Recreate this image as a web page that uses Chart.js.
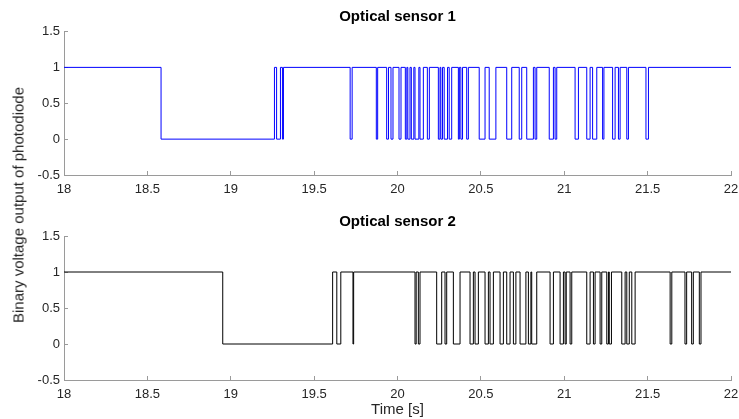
<!DOCTYPE html>
<html>
<head>
<meta charset="utf-8">
<script src="https://cdn.jsdelivr.net/npm/chart.js@4"></script>
<style>
  html, body { margin: 0; padding: 0; background: #fff; }
  #wrap { position: relative; width: 739px; height: 419px; overflow: hidden; }
  #c1 { position: absolute; left: 0; top: 0; }
  #c2 { position: absolute; left: 0; top: 200px; }
  #ylab {
    position: absolute; left: 18px; top: 205px;
    transform: translate(-50%, -50%) rotate(-90deg);
    white-space: nowrap;
    font: 15px "Liberation Sans", Arial, sans-serif;
    color: #262626;
  }
</style>
</head>
<body>
<div id="wrap">
  <canvas id="c1" width="739" height="200"></canvas>
  <canvas id="c2" width="739" height="219"></canvas>
  <div id="ylab">Binary voltage output of photodiode</div>
</div>
<script>
// tick values
const xTicks = [18, 18.5, 19, 19.5, 20, 20.5, 21, 21.5, 22];
const yTicks = [-0.5, 0, 0.5, 1, 1.5];

// intervals where the photodiode output is 0 (otherwise 1), in seconds
const sensor1Lows = [
  [18.582, 19.262], [19.275, 19.298], [19.31, 19.316], [19.716, 19.728],
  [19.873, 19.881], [19.935, 19.946], [19.961, 19.973], [20.009, 20.021],
  [20.047, 20.056], [20.062, 20.075], [20.083, 20.098], [20.105, 20.128],
  [20.135, 20.155], [20.179, 20.191], [20.245, 20.255], [20.26, 20.27],
  [20.28, 20.30], [20.31, 20.325], [20.365, 20.371], [20.38, 20.39],
  [20.415, 20.425], [20.49, 20.525], [20.55, 20.59], [20.655, 20.685],
  [20.73, 20.745], [20.775, 20.815], [20.825, 20.835], [20.91, 20.935],
  [20.945, 20.955], [21.065, 21.085], [21.135, 21.155], [21.17, 21.195],
  [21.23, 21.238], [21.29, 21.305], [21.325, 21.335], [21.375, 21.385],
  [21.49, 21.505]
];
const sensor2Lows = [
  [18.952, 19.611], [19.636, 19.66], [19.733, 19.737], [20.105, 20.112],
  [20.125, 20.135], [20.235, 20.265], [20.285, 20.295], [20.335, 20.375],
  [20.435, 20.455], [20.465, 20.485], [20.525, 20.545], [20.555, 20.575],
  [20.615, 20.635], [20.655, 20.675], [20.695, 20.71], [20.735, 20.77],
  [20.785, 20.80], [20.805, 20.835], [20.915, 20.935], [20.975, 20.995],
  [21.005, 21.012], [21.035, 21.045], [21.135, 21.155], [21.175, 21.185],
  [21.215, 21.225], [21.255, 21.265], [21.27, 21.283], [21.345, 21.365],
  [21.375, 21.39], [21.405, 21.425], [21.635, 21.645], [21.724, 21.734],
  [21.764, 21.774], [21.81, 21.82]
];

const FONT = '"Liberation Sans", Arial, sans-serif';
const TXT = '#262626';
const AXIS = '#9a9a9a';

// turn the low intervals into step points (value changes at each x)
function toSteps(lows) {
  const pts = [{ x: 18, y: 1 }];
  lows.forEach(([a, b]) => {
    pts.push({ x: a, y: 0 });
    pts.push({ x: b, y: 1 });
  });
  pts.push({ x: 22, y: 1 });
  return pts;
}

function makeChart(id, title, lows, color, topHeight, titleTop, xHeight, withXTitle) {
  const ctx = document.getElementById(id).getContext('2d');
  return new Chart(ctx, {
    type: 'line',
    data: {
      datasets: [{
        data: toSteps(lows),
        borderColor: color,
        borderWidth: 1,
        stepped: 'before',
        pointRadius: 0,
        fill: false
      }]
    },
    options: {
      responsive: false,
      animation: false,
      events: [],
      layout: { padding: { left: 0, right: 8, top: 0, bottom: 0 } },
      plugins: {
        legend: { display: false },
        tooltip: { enabled: false }
      },
      scales: {
        // empty top axis, only used so the subplot title is centred over the plot box
        top: {
          type: 'linear',
          position: 'top',
          min: 18, max: 22,
          afterFit: s => { s.height = topHeight; s.paddingLeft = 0; s.paddingRight = 0; },
          ticks: { display: false },
          grid: { display: false, drawTicks: false },
          border: { display: false },
          title: {
            display: true,
            text: title,
            color: '#000',
            font: { family: FONT, size: 15, weight: 'bold' },
            padding: { top: titleTop, bottom: 0 }
          }
        },
        x: {
          type: 'linear',
          min: 18, max: 22,
          afterBuildTicks: s => { s.ticks = xTicks.map(v => ({ value: v })); },
          afterFit: s => {
            s.height = xHeight;
            // keep the plot box fixed, the end labels may overhang
            s.paddingLeft = 0;
            s.paddingRight = 0;
          },
          ticks: {
            color: TXT, font: { family: FONT, size: 13 }, padding: 11,
            maxRotation: 0, autoSkip: false,
            callback: v => String(v)
          },
          grid: { drawOnChartArea: false, color: AXIS, tickLength: -4 },
          border: { color: AXIS, width: 1 },
          title: {
            display: withXTitle,
            text: 'Time [s]',
            color: TXT,
            font: { family: FONT, size: 15 },
            padding: { top: 0, bottom: 0 }
          }
        },
        y: {
          min: -0.5, max: 1.5,
          afterBuildTicks: s => { s.ticks = yTicks.map(v => ({ value: v })); },
          afterFit: s => { s.width = 64; },
          ticks: {
            color: TXT, font: { family: FONT, size: 13 }, padding: 8,
            callback: v => String(v)
          },
          grid: { drawOnChartArea: false, color: AXIS, tickLength: -4 },
          border: { color: AXIS, width: 1 }
        }
      }
    }
  });
}

makeChart('c1', 'Optical sensor 1', sensor1Lows, '#0000ff', 31.5, 8, 25, false);
makeChart('c2', 'Optical sensor 2', sensor2Lows, '#000000', 36, 13, 39, true);
</script>
</body>
</html>
